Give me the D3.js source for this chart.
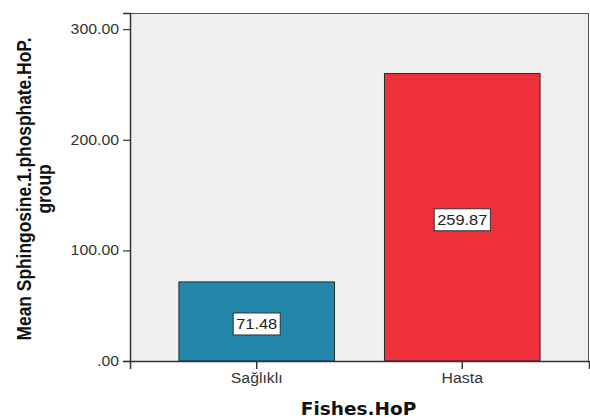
<!DOCTYPE html>
<html>
<head>
<meta charset="utf-8">
<script src="https://cdn.jsdelivr.net/npm/d3@7"></script>
<style>
  html, body { margin: 0; padding: 0; background: #ffffff; }
  svg { display: block; }
</style>
</head>
<body>
<svg id="chart" width="590" height="419"></svg>
<script>
// Group means of Sphingosine-1-phosphate by Fishes.HoP group
const categories = ["Sağlıklı", "Hasta"];
const meanValues = [71.48, 259.87];
const barColors = ["#2287aa", "#ef2f39"];
const yTickValues = [0, 100, 200, 300];

const width = 590, height = 419;
const margin = { top: 13, right: 1, bottom: 58, left: 130 };
const WIDE = 1.13; // horizontal widening of the label glyphs
const FONT = "Arial, 'Liberation Sans', sans-serif";

const svg = d3.select("#chart");

// widen text glyphs horizontally by a factor k
function widen(sel, k) {
  sel.each(function () {
    const w = this.getComputedTextLength();
    d3.select(this).attr("textLength", w * k).attr("lengthAdjust", "spacingAndGlyphs");
  });
}

const x = d3.scaleBand()
  .domain(categories)
  .range([margin.left, width - margin.right])
  .paddingInner(0.243)
  .paddingOuter(0.238);

const y = d3.scaleLinear()
  .domain([0, 314.6])
  .range([height - margin.bottom, margin.top]);

const fmt = v => v === 0 ? ".00" : d3.format(".2f")(v);

// plot background
svg.append("rect")
  .attr("x", margin.left)
  .attr("y", margin.top)
  .attr("width", width - margin.right - margin.left)
  .attr("height", height - margin.bottom - margin.top)
  .attr("fill", "#efefef");

// bars
svg.selectAll("rect.bar")
  .data(categories)
  .join("rect")
  .attr("class", "bar")
  .attr("x", d => x(d))
  .attr("y", (d, i) => y(meanValues[i]))
  .attr("width", x.bandwidth())
  .attr("height", (d, i) => y(0) - y(meanValues[i]))
  .attr("fill", (d, i) => barColors[i])
  .attr("stroke", "#2a2a2a")
  .attr("stroke-width", 1);

// frame
svg.append("rect")
  .attr("x", margin.left + 0.5)
  .attr("y", margin.top + 0.5)
  .attr("width", width - margin.right - margin.left - 1)
  .attr("height", height - margin.bottom - margin.top)
  .attr("fill", "none")
  .attr("stroke", "#555")
  .attr("stroke-width", 1);

// y axis
const yAxis = svg.append("g")
  .attr("transform", `translate(${margin.left},0)`)
  .call(d3.axisLeft(y).tickValues(yTickValues).tickFormat(fmt).tickSize(7).tickPadding(4));
yAxis.select(".domain").attr("stroke", "#333").attr("stroke-width", 1.5);
yAxis.selectAll(".tick line").attr("stroke", "#333").attr("stroke-width", 1.2);
yAxis.selectAll(".tick text")
  .attr("font-family", FONT)
  .attr("font-size", 14)
  .attr("fill", "#333")
  .call(widen, WIDE);

// x axis
const xAxis = svg.append("g")
  .attr("transform", `translate(0,${y(0)})`)
  .call(d3.axisBottom(x).tickSize(8).tickPadding(4));
xAxis.select(".domain").attr("stroke", "#333").attr("stroke-width", 1.5);
xAxis.selectAll(".tick line").attr("stroke", "#333").attr("stroke-width", 1.5);
xAxis.selectAll(".tick text")
  .attr("font-family", FONT)
  .attr("font-size", 14)
  .attr("fill", "#333")
  .call(widen, WIDE);

// value labels
const labels = svg.selectAll("g.vlabel")
  .data(categories)
  .join("g")
  .attr("class", "vlabel")
  .attr("transform", (d, i) => `translate(${x(d) + x.bandwidth() / 2},${(y(meanValues[i]) + y(0)) / 2 + 2.5})`);

labels.append("text")
  .attr("text-anchor", "middle")
  .attr("dy", "0.36em")
  .attr("font-family", FONT)
  .attr("font-size", 14.5)
  .attr("fill", "#222")
  .text((d, i) => d3.format(".2f")(meanValues[i]))
  .call(widen, WIDE)
  .each(function () {
    const w = +this.getAttribute("textLength");
    d3.select(this.parentNode).insert("rect", "text")
      .attr("x", -w / 2 - 3)
      .attr("y", -11)
      .attr("width", w + 6)
      .attr("height", 22)
      .attr("fill", "#ffffff")
      .attr("stroke", "#333")
      .attr("stroke-width", 1);
  });

// axis titles
svg.append("text")
  .attr("x", 358.5)
  .attr("y", 415)
  .attr("text-anchor", "middle")
  .attr("font-family", "Verdana, 'DejaVu Sans', sans-serif")
  .attr("font-weight", "bold")
  .attr("font-size", 18.5)
  .attr("fill", "#111")
  .text("Fishes.HoP");

const yTitle = svg.append("text")
  .attr("transform", `translate(30.7,189) scale(${WIDE},1) rotate(-90)`)
  .attr("text-anchor", "middle")
  .attr("font-family", FONT)
  .attr("font-weight", "bold")
  .attr("font-size", 17.4)
  .attr("fill", "#111");
yTitle.append("tspan").attr("x", 0).attr("y", 0).text("Mean Sphingosine.1.phosphate.HoP.");
yTitle.append("tspan").attr("x", 0).attr("y", 17.6).text("group");
</script>
</body>
</html>
